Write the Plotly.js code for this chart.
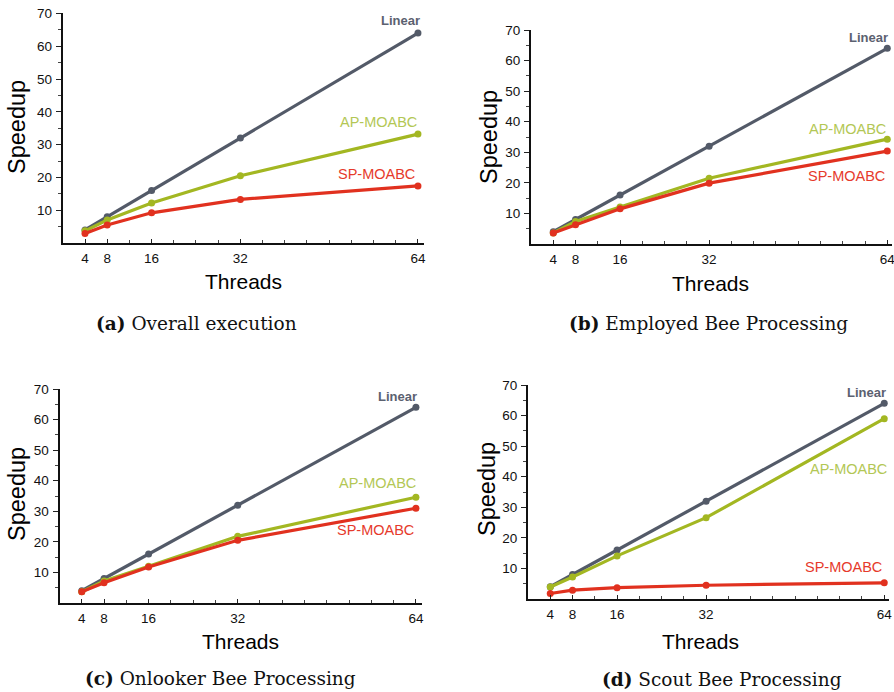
<!DOCTYPE html>
<html><head><meta charset="utf-8">
<script src="https://cdn.plot.ly/plotly-3.0.1.min.js"></script>
<style>html,body{margin:0;padding:0;background:#fff}</style>
</head><body><div id="chart" style="width:894px;height:692px"></div>
<script>
const threads = [4, 8, 16, 32, 64];
const xTickLabels = ['4', '8', '16', '32', '64'];
const yTickVals = [10, 20, 30, 40, 50, 60, 70];

const linearA = [4, 8, 16, 32, 64];
const apA = [3.7, 7.0, 12.2, 20.5, 33.2];
const spA = [2.9, 5.5, 9.2, 13.3, 17.4];

const linearB = [4, 8, 16, 32, 64];
const apB = [3.6, 7.4, 12.1, 21.5, 34.3];
const spB = [3.6, 6.3, 11.5, 19.9, 30.4];

const linearC = [4, 8, 16, 32, 64];
const apC = [3.7, 7.2, 12.0, 21.8, 34.6];
const spC = [3.7, 6.6, 11.8, 20.5, 31.0];

const linearD = [4, 8, 16, 32, 64];
const apD = [3.9, 7.2, 14.1, 26.6, 59.0];
const spD = [1.8, 2.9, 3.7, 4.5, 5.3];

const captions = [
  ['(a)', 'Overall execution'],
  ['(b)', 'Employed Bee Processing'],
  ['(c)', 'Onlooker Bee Processing'],
  ['(d)', 'Scout Bee Processing']
];

const W = 894, H = 692;
const px = v => v / W;
const py = v => 1 - v / H;

const colLinear = '#535a68', colAP = '#a3b722', colSP = '#e1311f';
const colLinearTxt = '#5b6170', colAPTxt = '#b3c755', colSPTxt = '#e63a2b';

const panels = [
  {x0: 62.8, x1: 423.5, xmax: 65, yb: 243, yt: 13.4, lin: linearA, ap: apA, sp: spA,
   lab: {lin: [64.7, 67.8], ap: [64.2, 36.8], sp: [63.8, 21.0]},
   ytitle: [17, 127], xtitle: [243, 281], cap: [196, 323]},
  {x0: 531, x1: 892, xmax: 64.85, yb: 244, yt: 30, lin: linearB, ap: apB, sp: spB,
   lab: {lin: [64.5, 67.5], ap: [64.1, 37.7], sp: [64.0, 22.2]},
   ytitle: [489, 137], xtitle: [710, 283], cap: [708, 323]},
  {x0: 59.5, x1: 421.5, xmax: 65, yb: 603, yt: 389, lin: linearC, ap: apC, sp: spC,
   lab: {lin: [64.6, 67.5], ap: [64.3, 39.1], sp: [64.0, 23.8]},
   ytitle: [17, 494], xtitle: [240, 641], cap: [220, 678]},
  {x0: 528, x1: 888.7, xmax: 64.8, yb: 599, yt: 385, lin: linearD, ap: apD, sp: spD,
   lab: {lin: [64.6, 67.5], ap: [64.8, 42.6], sp: [64.0, 10.5]},
   ytitle: [487, 489], xtitle: [700, 641], cap: [722, 679]}
];

const data = [];
const layout = {
  width: W, height: H, margin: {l: 0, r: 0, t: 0, b: 0},
  paper_bgcolor: '#fff', plot_bgcolor: 'rgba(0,0,0,0)',
  showlegend: false,
  font: {family: 'Liberation Sans, Arial, sans-serif', color: '#111'},
  annotations: []
};

panels.forEach((p, i) => {
  const n = i === 0 ? '' : String(i + 1);
  const xa = 'x' + n, ya = 'y' + n;
  const series = [[p.lin, colLinear], [p.ap, colAP], [p.sp, colSP]];
  series.forEach(([vals, c]) => {
    data.push({
      x: threads, y: vals, xaxis: xa, yaxis: ya, type: 'scatter', mode: 'lines+markers',
      line: {color: c, width: 3.2}, marker: {color: c, size: 7}, cliponaxis: false, hoverinfo: 'skip'
    });
  });
  layout['xaxis' + n] = {
    domain: [px(p.x0), px(p.x1)], range: [0, p.xmax], anchor: ya,
    tickmode: 'array', tickvals: threads, ticktext: xTickLabels,
    ticks: 'inside', ticklen: 4, tickwidth: 1, tickcolor: '#222',
    minor: {tickmode: 'linear', tick0: 0, dtick: 4, ticks: 'inside', ticklen: 3, tickwidth: 1, tickcolor: '#444'},
    showline: true, linecolor: '#111', linewidth: 2, showgrid: false, zeroline: false,
    tickfont: {size: 13.5, color: '#111'}, ticklabelstandoff: 2, ticklabeloverflow: 'allow',
    fixedrange: true
  };
  layout['yaxis' + n] = {
    domain: [py(p.yb), py(p.yt)], range: [0, 70], anchor: xa,
    tickmode: 'array', tickvals: yTickVals,
    ticks: 'outside', ticklen: 5, tickwidth: 1, tickcolor: '#222',
    minor: {tickmode: 'linear', tick0: 5, dtick: 10, ticks: 'outside', ticklen: 3, tickwidth: 1, tickcolor: '#444'},
    showline: true, linecolor: '#111', linewidth: 2, showgrid: false, zeroline: false,
    tickfont: {size: 13.5, color: '#111'}, ticklabelstandoff: 1, ticklabeloverflow: 'allow',
    fixedrange: true
  };
  const ann = (txt, xy, col, bold, size) => layout.annotations.push({
    xref: xa, yref: ya, x: xy[0], y: xy[1], xanchor: 'right', yanchor: 'middle',
    text: bold ? '<b>' + txt + '</b>' : txt, showarrow: false,
    font: {size: size, color: col, family: 'Liberation Sans, Arial, sans-serif'}
  });
  ann('Linear', p.lab.lin, colLinearTxt, true, 13);
  ann('AP-MOABC', p.lab.ap, colAPTxt, false, 14.5);
  ann('SP-MOABC', p.lab.sp, colSPTxt, false, 14.5);
  layout.annotations.push({
    xref: 'paper', yref: 'paper', x: px(p.ytitle[0]), y: py(p.ytitle[1]),
    xanchor: 'center', yanchor: 'middle', textangle: -90, showarrow: false,
    text: 'Speedup', font: {size: 23.5, color: '#000'}
  });
  layout.annotations.push({
    xref: 'paper', yref: 'paper', x: px(p.xtitle[0]), y: py(p.xtitle[1]),
    xanchor: 'center', yanchor: 'middle', showarrow: false,
    text: 'Threads', font: {size: 21, color: '#000'}
  });
  layout.annotations.push({
    xref: 'paper', yref: 'paper', x: px(p.cap[0]), y: py(p.cap[1]),
    xanchor: 'center', yanchor: 'middle', showarrow: false,
    text: '<b>' + captions[i][0] + '</b> ' + captions[i][1],
    font: {size: 18.5, color: '#111', family: 'DejaVu Serif, serif'}
  });
});

Plotly.newPlot('chart', data, layout, {staticPlot: true, displayModeBar: false});
</script></body></html>
